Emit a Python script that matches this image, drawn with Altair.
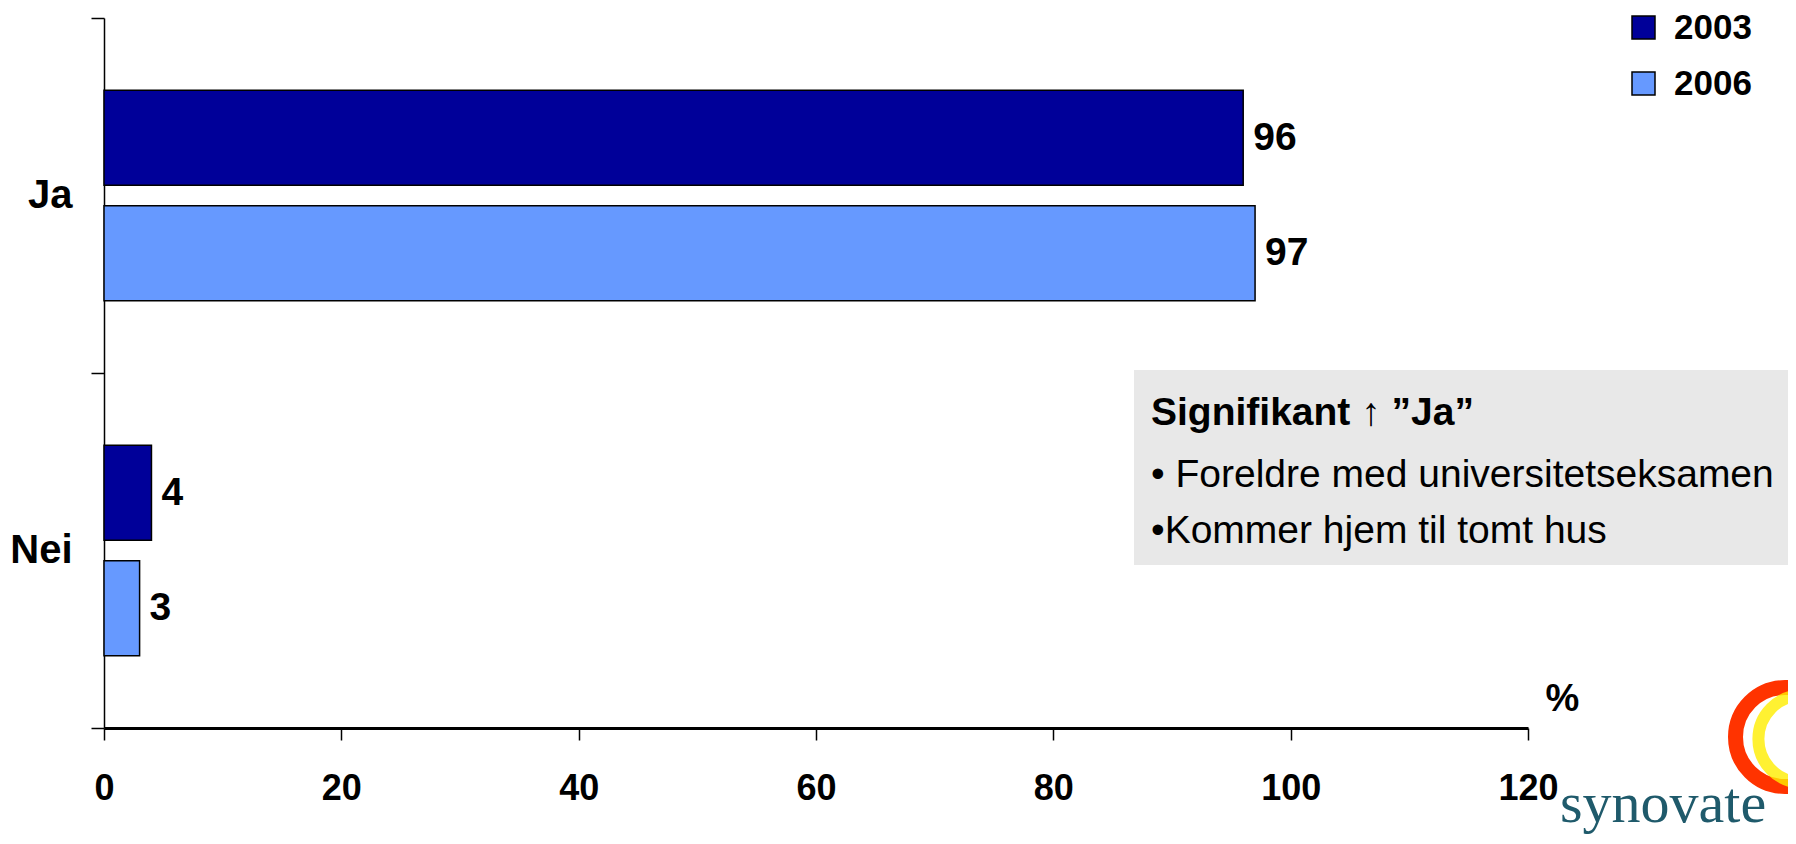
import altair as alt
import pandas as pd

# ---- data ----
answers = ["Ja", "Ja", "Nei", "Nei"]
years = ["2003", "2006", "2003", "2006"]
values = [96, 97, 4, 3]
answer_order = ["Ja", "Nei"]
year_order = ["2003", "2006"]
year_colors = ["#000099", "#6699FF"]
x_ticks = [0, 20, 40, 60, 80, 100, 120]
note_title = "Signifikant ↑ ”Ja”"
note_lines = ["• Foreldre med universitetseksamen", "•Kommer hjem til tomt hus"]
logo_text = "synovate"

df = pd.DataFrame({"answer": answers, "year": years, "value": values})

FONT = "Liberation Sans, Arial, Helvetica, sans-serif"

W, H = 1424, 710

x_enc = alt.X(
    "value:Q",
    scale=alt.Scale(domain=[0, 120], nice=False),
    axis=alt.Axis(
        values=x_ticks, grid=False, title="%",
        titleX=1458, titleY=-29, titleAlign="center", titleBaseline="middle",
        titleAngle=0, titleFont=FONT, titleFontSize=38, titleFontWeight="bold",
        titleColor="black",
        tickSize=12, tickWidth=1.5, tickColor="black",
        domainColor="black", domainWidth=3,
        labelFont=FONT, labelFontSize=36, labelFontWeight="bold",
        labelColor="black", labelPadding=31, labelFlush=False,
    ),
)
y_enc = alt.Y(
    "answer:N", sort=answer_order,
    scale=alt.Scale(paddingInner=0, paddingOuter=0),
    axis=alt.Axis(
        title=None, tickBand="extent", tickSize=13, tickWidth=1.5,
        tickColor="black", domainColor="black", domainWidth=1.5,
        labelFont=FONT, labelFontSize=40, labelFontWeight="bold",
        labelColor="black", labelPadding=19, labelAngle=0,
    ),
)
yoff_enc = alt.YOffset(
    "year:N", sort=year_order,
    scale=alt.Scale(paddingInner=0.1775, paddingOuter=0.626),
)

base = alt.Chart(df)

bars = base.mark_bar(stroke="black", strokeWidth=1.5).encode(
    x=x_enc, y=y_enc, yOffset=yoff_enc,
    color=alt.Color(
        "year:N",
        scale=alt.Scale(domain=year_order, range=year_colors),
        legend=alt.Legend(
            title=None, orient="none", legendX=1522, legendY=-8,
            direction="vertical", symbolType="square", symbolSize=529,
            symbolStrokeColor="black", symbolStrokeWidth=1.5, symbolOpacity=1,
            labelFont=FONT, labelFontSize=35, labelFontWeight="bold",
            labelColor="black", labelOffset=13, rowPadding=20, padding=0,
        ),
    ),
)

labels = base.mark_text(
    align="left", baseline="middle", dx=10,
    font=FONT, fontSize=39, fontWeight="bold", color="black",
).encode(x=x_enc, y=y_enc, yOffset=yoff_enc, text="value:Q")

one = pd.DataFrame({"k": [0]})

note_box = alt.Chart(one).mark_rect(color="#e8e8e8").encode(
    x=alt.value(1030), x2=alt.value(1700), y=alt.value(352), y2=alt.value(547)
)
note_t = alt.Chart(one).mark_text(
    align="left", baseline="alphabetic", font=FONT, fontSize=39,
    fontWeight="bold", color="black",
).encode(x=alt.value(1047), y=alt.value(407), text=alt.value(note_title))
note_l1 = alt.Chart(one).mark_text(
    align="left", baseline="alphabetic", font=FONT, fontSize=39, color="black",
).encode(x=alt.value(1047), y=alt.value(469), text=alt.value(note_lines[0]))
note_l2 = alt.Chart(one).mark_text(
    align="left", baseline="alphabetic", font=FONT, fontSize=39, color="black",
).encode(x=alt.value(1047), y=alt.value(525), text=alt.value(note_lines[1]))

ring_red = alt.Chart(one).mark_point(
    shape="circle", filled=False, size=9800, stroke="#ff3300", strokeWidth=15, opacity=1
).encode(x=alt.value(1681), y=alt.value(719))
ring_yel = alt.Chart(one).mark_point(
    shape="circle", filled=False, size=7600, stroke="#ffee00", strokeWidth=12, opacity=0.8
).encode(x=alt.value(1698), y=alt.value(721))
logo = alt.Chart(one).mark_text(
    align="left", baseline="alphabetic", font="Liberation Serif, DejaVu Serif, serif",
    fontSize=58, color="#1f5a6b",
).encode(x=alt.value(1456), y=alt.value(804), text=alt.value(logo_text))

chart = alt.layer(
    note_box, bars, labels, note_t, note_l1, note_l2, ring_red, ring_yel, logo
).properties(
    width=W, height=H,
    autosize=alt.AutoSizeParams(type="none"),
    padding={"left": 96, "top": 10, "right": 260, "bottom": 110},
    background="white",
).configure_view(stroke=None)

chart.save("out.html", embed_options={"renderer": "svg", "actions": False})
